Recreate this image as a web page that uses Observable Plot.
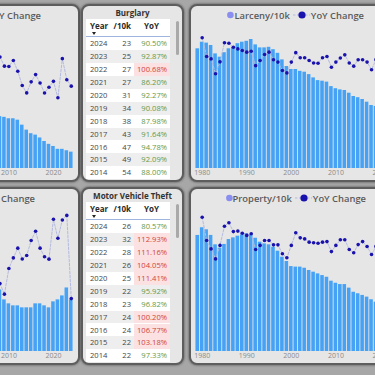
<!DOCTYPE html>
<html><head><meta charset="utf-8">
<script src="https://cdn.jsdelivr.net/npm/d3@7"></script>
<script src="https://cdn.jsdelivr.net/npm/@observablehq/plot@0.6"></script>
<style>
html,body{margin:0;padding:0;width:375px;height:375px;overflow:hidden;background:#a7a7a7;font-family:"Open Sans",sans-serif;}
#root{position:relative;width:375px;height:375px;}
.panel{position:absolute;box-sizing:border-box;border:2px solid #5d5d5d;border-radius:8px;background:#e6e6e6;box-shadow:0 0 2px 1px rgba(0,0,0,.25);overflow:hidden;}
.layer{position:absolute;left:0;top:0;}
.legend{position:absolute;top:1px;height:16px;display:flex;align-items:center;font-size:9.4px;font-weight:600;color:#5a5a5a;white-space:nowrap;}
.legend .it{display:flex;align-items:center;}
.ttl{position:absolute;left:0;right:0;top:0;text-align:center;font-weight:700;font-size:8px;color:#333;line-height:13px;white-space:nowrap;}
.tbl{position:absolute;background:#fff;}
.cell{position:absolute;white-space:nowrap;font-size:7.6px;color:#474747;}
.hd{font-weight:700;font-size:8px;color:#2a2a2a;}
</style></head>
<body><div id="root"></div>
<script>
// ---------- data ----------
const allYears = [1979,1980,1981,1982,1983,1984,1985,1986,1987,1988,1989,1990,1991,1992,1993,1994,1995,1996,1997,1998,1999,2000,2001,2002,2003,2004,2005,2006,2007,2008,2009,2010,2011,2012,2013,2014,2015,2016,2017,2018,2019,2020,2021,2022,2023,2024];
const axisYearsRight = [1980,1990,2000,2010,2020];
const axisYearsLeft = [2010,2020];

// Burglary (visible part)
const burglaryYears = [2008,2009,2010,2011,2012,2013,2014,2015,2016,2017,2018,2019,2020,2021,2022,2023,2024];
const burglaryRate  = [73,72,70,70,68,61,54,49,47,43,38,34,31,27,27,25,23];
const burglaryYoY   = [101.3,97.9,97.8,100.0,96.0,90.75,88.00,92.09,94.78,91.64,87.98,90.08,92.27,86.20,100.68,92.87,90.50];

// Motor vehicle theft (visible part)
const mvtYears = [2008,2009,2010,2011,2012,2013,2014,2015,2016,2017,2018,2019,2020,2021,2022,2023,2024];
const mvtRate  = [31,26,24,23,23,22,22,22,24,24,23,22,25,26,28,32,26];
const mvtYoY   = [86.4,82.3,92.3,96.4,100.2,96.0,97.33,103.18,106.77,100.20,96.82,95.92,111.41,104.05,111.16,112.93,80.57];

// Larceny (visible part)
const larcenyYears = [1979,1980,1981,1982,1983,1984,1985,1986,1987,1988,1989,1990,1991,1992,1993,1994,1995,1996,1997,1998,1999,2000,2001,2002,2003,2004,2005,2006,2007,2008,2009,2010,2011,2012,2013,2014,2015,2016,2017,2018,2019];
const larcenyRate = [399,421,418,410,382,371,386,399,404,416,421,424,430,412,402,402,404,396,384,362,340,330,330,324,321,313,302,293,291,288,273,266,262,260,251,240,236,230,221,210,207];
const larcenyYoY  = [null,108.4,101.5,100.6,95.1,99.5,106.6,106.4,104.9,104.3,103.7,103.1,103.4,98.1,100,102.2,103.1,100.3,99.4,96.3,95.4,99.4,102.9,101,101,100,99.1,99,101,101.5,97.5,99.4,100.9,102.1,99.1,97.9,100.3,100.3,99.4,96.6,100.3];

// Property (visible part)
const propertyYears = larcenyYears;
const propertyRate = [619,660,649,619,569,551,571,597,606,615,622,628,622,604,583,574,569,556,535,503,480,453,450,450,444,432,423,414,405,396,375,364,357,357,338,316,308,299,290,276,263];
const propertyYoY  = [null,109.7,101.1,98,94.3,99.3,106.4,107.7,104.4,104.6,103.8,103,103.6,97.8,99.3,101.1,101.1,99.5,99.5,96.2,94.7,99.3,104,102.1,101.7,100.5,100.3,100.1,100.5,100.7,97,99.3,101.4,101.4,97.8,96.6,99.6,100.7,98.9,95.9,98.9];

const tableRows = 11;

// ---------- styles ----------
const BAR = "#46a2f5";
const DOT = "#1a12ad";
const LEG_BAR = "#8a8ef0";
const LINE = "#b4badf";
const GREEN = "#5f9a4e";
const RED = "#cf4545";
const PINK = "#fbe1e1";

const root = document.getElementById("root");

function panel(left, top, w, h) {
  const d = document.createElement("div");
  d.className = "panel";
  Object.assign(d.style, {left: left + "px", top: top + "px", width: w + "px", height: h + "px"});
  root.appendChild(d);
  return d;
}

function chartPanel({left, top, label, years, rate, yoy, yMax, yoyDomain, mL, mR, ticks, legendRight}) {
  const W = 219, H = 178;
  const p = panel(left, top, W, H);
  const cw = W - 4, ch = H - 4;
  const common = {width: cw, height: ch, marginLeft: mL, marginRight: mR, marginTop: 27, marginBottom: 12};
  const bars = years.map((y, i) => ({year: y, rate: rate[i]}));
  const pts = years.map((y, i) => ({year: y, yoy: yoy[i]})).filter(d => d.yoy != null);

  const barPlot = Plot.plot({
    ...common,
    style: {background: "transparent", color: "#8a8a8a", fontSize: "7px", fontFamily: "Open Sans, sans-serif", overflow: "visible"},
    x: {type: "band", domain: allYears, paddingInner: 0.2, paddingOuter: 0.1, round: false, ticks, tickFormat: d => String(d), tickSize: 0, tickPadding: 2, label: null},
    y: {domain: [0, yMax], axis: null},
    marks: [Plot.barY(bars, {x: "year", y: "rate", fill: BAR})]
  });
  barPlot.classList.add("layer");
  p.appendChild(barPlot);

  const dotPlot = Plot.plot({
    ...common,
    style: {background: "transparent", overflow: "visible"},
    x: {type: "point", domain: allYears, padding: 0.5, round: false, axis: null},
    y: {domain: yoyDomain, axis: null},
    marks: [
      Plot.line(pts, {x: "year", y: "yoy", stroke: LINE, strokeWidth: 1, strokeDasharray: "2.5,1.5"}),
      Plot.dot(pts, {x: "year", y: "yoy", r: 1.8, fill: DOT, stroke: "none"})
    ]
  });
  dotPlot.classList.add("layer");
  p.appendChild(dotPlot);

  const lg = document.createElement("div");
  lg.className = "legend";
  lg.style.right = legendRight + "px";
  lg.innerHTML =
    `<span class="it"><svg width="7" height="10"><circle cx="3.4" cy="5" r="3.3" fill="${LEG_BAR}"/></svg><span>${label}</span></span>` +
    `<span class="it" style="margin-left:3px"><svg width="17" height="10"><line x1="0" x2="17" y1="5" y2="5" stroke="${LINE}" stroke-width="1.2" stroke-dasharray="2.5,1.5"/><circle cx="9" cy="5" r="3.6" fill="${DOT}"/></svg><span style="margin-left:1px">YoY Change</span></span>`;
  p.appendChild(lg);
}

function tablePanel({left, top, title, years, rate, yoy}) {
  const p = panel(left, top, 103, 178);
  const t = document.createElement("div");
  t.className = "ttl";
  t.textContent = title;
  p.appendChild(t);

  const tbl = document.createElement("div");
  tbl.className = "tbl";
  const rowH = 12.9, headH = 18.3;
  Object.assign(tbl.style, {left: "3px", top: "13px", width: "84px", height: (headH + tableRows * rowH) + "px"});
  p.appendChild(tbl);

  const add = (html, css, cls = "cell") => {
    const c = document.createElement("div");
    c.className = cls;
    c.innerHTML = html;
    Object.assign(c.style, css);
    tbl.appendChild(c);
    return c;
  };
  // header
  add("Year", {left: "4px", top: "1px", lineHeight: "12px"}, "cell hd");
  add("/10k", {left: "20px", width: "25px", textAlign: "right", top: "1px", lineHeight: "12px"}, "cell hd");
  add("YoY", {left: "47px", width: "37px", textAlign: "center", top: "1px", lineHeight: "12px"}, "cell hd");
  add("", {left: "6px", top: "13px", width: "0", height: "0", borderLeft: "2.6px solid transparent", borderRight: "2.6px solid transparent", borderTop: "3px solid #222"});
  add("", {left: "0", top: headH - 1 + "px", width: "84px", height: "1px", background: "#9fb5de"});

  const n = years.length;
  for (let i = 0; i < tableRows; i++) {
    const k = n - 1 - i;
    const y0 = headH + i * rowH;
    if (i % 2 === 1) add("", {left: "0", top: y0 + "px", width: "84px", height: rowH + "px", background: "#eeeeee"});
    const v = yoy[k];
    if (v > 100) add("", {left: "48px", top: y0 + "px", width: "36px", height: rowH + "px", background: PINK});
    const css = {top: y0 + "px", lineHeight: rowH + "px"};
    add(String(years[k]), {...css, left: "4px"});
    add(String(rate[k]), {...css, left: "24px", width: "21px", textAlign: "right"});
    add(v.toFixed(2) + "%", {...css, left: "47px", width: "34px", textAlign: "right", color: v > 100 ? RED : GREEN});
  }
  // scrollbar
  const sb = document.createElement("div");
  Object.assign(sb.style, {position: "absolute", left: "93px", top: "15px", width: "3px", height: "34px", background: "#a9a9a9", borderRadius: "2px"});
  p.appendChild(sb);
}

// ---------- layout ----------
chartPanel({left: -139, top: 4, label: "Burglary/10k", years: burglaryYears, rate: burglaryRate, yoy: burglaryYoY, yMax: 190, yoyDomain: [60, 110], mL: 5, mR: 5, ticks: axisYearsLeft, legendRight: 37});
tablePanel({left: 81, top: 4, title: "Burglary", years: burglaryYears, rate: burglaryRate, yoy: burglaryYoY});
chartPanel({left: 189, top: 4, label: "Larceny/10k", years: larcenyYears, rate: larcenyRate, yoy: larcenyYoY, yMax: 450, yoyDomain: [60, 110], mL: 4, mR: 6, ticks: axisYearsRight, legendRight: 42});

chartPanel({left: -139, top: 187, label: "Vehicle/10k", years: mvtYears, rate: mvtRate, yoy: mvtYoY, yMax: 68, yoyDomain: [60, 112.5], mL: 5, mR: 5, ticks: axisYearsLeft, legendRight: 43});
tablePanel({left: 81, top: 187, title: "Motor Vehicle Theft", years: mvtYears, rate: mvtRate, yoy: mvtYoY});
chartPanel({left: 189, top: 187, label: "Property/10k", years: propertyYears, rate: propertyRate, yoy: propertyYoY, yMax: 720, yoyDomain: [60, 110], mL: 4, mR: 6, ticks: axisYearsRight, legendRight: 40});
</script>
</body></html>
